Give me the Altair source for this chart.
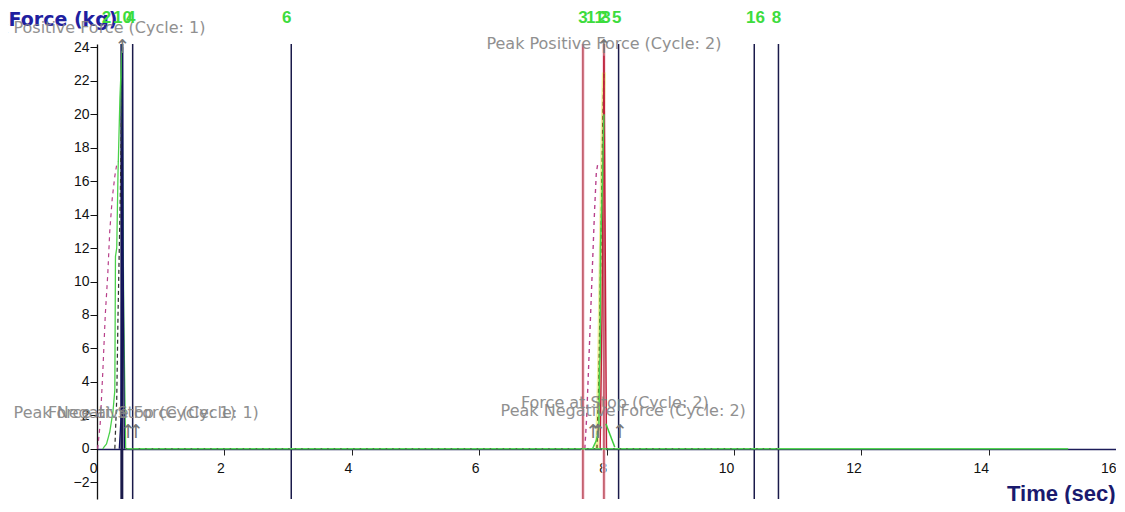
import altair as alt
import pandas as pd

# ---------------- data ----------------
# vertical cursor lines (time, sec)
navy_rule_t = [0.39, 0.56, 3.05, 8.19, 10.32, 10.70]
navy_rule_w = [3.0, 1.5, 1.5, 1.5, 1.5, 1.5]
red_rule_t = [7.63, 7.96]

# force curves (time sec, force kg)
c1_pink_t = [0.01, 0.05, 0.09, 0.13, 0.17, 0.20, 0.24, 0.28, 0.31, 0.34]
c1_pink_f = [0.0, 1.5, 4.5, 8.0, 10.5, 13.0, 15.0, 16.3, 17.0, 17.2]
c1_dark_t = [0.28, 0.31, 0.33, 0.35, 0.37, 0.385, 0.40]
c1_dark_f = [0.0, 3.0, 8.0, 12.0, 16.0, 20.0, 24.0]
c1_green_t = [0.09, 0.15, 0.20, 0.25, 0.28, 0.29, 0.31, 0.33, 0.36, 0.39, 0.42, 0.45]
c1_green_f = [0.0, 0.3, 1.0, 2.2, 3.5, 11.5, 12.0, 16.5, 21.0, 23.8, 8.0, 0.0]
c1_navy_t = [0.35, 0.38, 0.39, 0.40, 0.41, 0.43]
c1_navy_f = [0.0, 2.0, 12.0, 24.0, 12.0, 0.0]
c2_pink_t = [7.66, 7.69, 7.72, 7.75, 7.78, 7.81, 7.84, 7.87]
c2_pink_f = [0.0, 2.0, 5.0, 8.0, 11.0, 14.0, 16.5, 17.2]
c2_olive_t = [7.85, 7.88, 7.90, 7.92, 7.94, 7.96]
c2_olive_f = [0.0, 4.0, 9.0, 14.0, 19.0, 22.5]
c2_red_t = [7.90, 7.93, 7.95, 7.96, 7.98, 8.00]
c2_red_f = [0.0, 8.0, 18.0, 23.5, 12.0, 0.0]
c2_green_t = [7.78, 7.84, 7.88, 7.89, 7.90, 7.905, 7.93, 7.96]
c2_green_f = [0.0, 0.5, 1.2, 5.0, 5.5, 12.0, 15.0, 20.0]
c2_green_tail_t = [7.99, 8.13]
c2_green_tail_f = [1.5, 0.1]
baseline_t = [0.45, 15.25]
baseline_f = [0.0, 0.0]
dots_t = [0.45, 10.70]
dots_f = [0.0, 0.0]

# markers
arrow_t = [0.40, 0.49, 0.61, 7.96, 7.79, 7.87, 8.21]
arrow_f = [24.0, 1.0, 1.0, 24.0, 1.0, 1.0, 1.0]

# annotations
ann_text = ["Peak Positive Force (Cycle: 1)", "Peak Positive Force (Cycle: 2)",
            "Peak Negative Force (Cycle: 1)", "Force at Stop (Cycle: 1)",
            "Force at Stop (Cycle: 2)", "Peak Negative Force (Cycle: 2)"]
ann_t = [0.40, 7.96, 0.49, 0.61, 8.21, 7.87]
ann_f = [24.0, 23.5, 0.0, 0.0, 0.0, 0.0]

# cursor numbers at top
cur_text = ["2", "10", "4", "6", "3", "11", "2", "3", "5", "16", "8"]
cur_t = [0.15, 0.40, 0.53, 2.98, 7.63, 7.82, 7.94, 7.99, 8.16, 10.34, 10.67]

x_ticks = [0, 2, 4, 6, 8, 10, 12, 14, 16]
y_ticks = [-2, 0, 2, 4, 6, 8, 10, 12, 14, 16, 18, 20, 22, 24]

# ---------------- build tables ----------------
curves = {
    "c1_pink": (c1_pink_t, c1_pink_f), "c1_dark": (c1_dark_t, c1_dark_f),
    "c1_green": (c1_green_t, c1_green_f), "c1_navy": (c1_navy_t, c1_navy_f),
    "c2_pink": (c2_pink_t, c2_pink_f), "c2_olive": (c2_olive_t, c2_olive_f),
    "c2_red": (c2_red_t, c2_red_f), "c2_green": (c2_green_t, c2_green_f),
    "c2_green_tail": (c2_green_tail_t, c2_green_tail_f),
    "baseline": (baseline_t, baseline_f),
    "dots": (dots_t, dots_f),
}
rows = []
for name, (ts, fs) in curves.items():
    for i, (t, f) in enumerate(zip(ts, fs)):
        rows.append({"series": name, "t": t, "f": f, "o": i})
curve_df = pd.DataFrame(rows)

color_domain = ["c1_pink", "c1_dark", "c1_green", "c1_navy", "c2_pink", "c2_olive",
                "c2_red", "c2_green", "c2_green_tail", "baseline", "dots"]
color_range = ["#b8408a", "#303030", "#49d149", "#12125e", "#b8408a", "#5e5a18",
               "#c0203c", "#49d149", "#3ccc3c", "#55d655", "#4a7a4a"]
dash_range = [[4, 4], [4, 3], [1, 0], [1, 0], [4, 4], [4, 3], [1, 0], [1, 0], [1, 0], [1, 0], [1.5, 5]]
width_range = [1.2, 1.6, 1.3, 1.5, 1.2, 1.8, 1.5, 1.3, 2.0, 1.6, 1.4]

navy_df = pd.DataFrame({"t": navy_rule_t, "w": navy_rule_w})
red_df = pd.DataFrame({"t": red_rule_t})
arrow_df = pd.DataFrame({"t": arrow_t, "f": arrow_f})
cur_df = pd.DataFrame({"t": cur_t, "label": cur_text})

# ---------------- encodings ----------------
NUM_FONT = "Liberation Sans"
x_enc = alt.X("t:Q",
              scale=alt.Scale(domain=[0, 16], nice=False, zero=False),
              axis=alt.Axis(values=x_ticks, format="d", grid=False, offset=-50,
                            domainColor="#1c1c5a", domainWidth=1.5,
                            tickColor="#222222", tickSize=6,
                            labelFont=NUM_FONT, labelFontSize=14, labelColor="#111111",
                            labelAlign="right", labelPadding=6, labelFlush=False,
                            title="Time (sec)", titleFont=NUM_FONT, titleFontSize=22,
                            titleFontWeight="bold", titleColor="#1a1a6e",
                            titleAlign="right", titleBaseline="middle",
                            titleX=1018, titleY=44))
y_enc = alt.Y("f:Q",
              scale=alt.Scale(domain=[-3.0, 24.2], nice=False, zero=False),
              axis=alt.Axis(values=y_ticks, format="d", grid=False,
                            domainColor="#111111", domainWidth=1.3,
                            tickColor="#111111", tickSize=7,
                            labelFont=NUM_FONT, labelFontSize=14, labelColor="#111111",
                            labelPadding=1, labelFlush=False,
                            title="Force (kg)", titleFont="DejaVu Sans", titleFontSize=19,
                            titleFontWeight="bold", titleColor="#1f1fa0",
                            titleAngle=0, titleAlign="left", titleBaseline="middle",
                            titleX=-89, titleY=-25))

red_halo = alt.Chart(red_df).mark_rule(color="#f8d3de", strokeWidth=4, opacity=0.8).encode(x=x_enc)
red_rules = alt.Chart(red_df).mark_rule(color="#b03040", strokeWidth=1.3).encode(x=x_enc)
navy_rules = alt.Chart(navy_df).mark_rule(color="#1a1a4a").encode(
    x=x_enc, strokeWidth=alt.StrokeWidth("w:Q", scale=None, legend=None))

olive_halo = alt.Chart(curve_df[curve_df.series == "c2_olive"]).mark_line(
    color="#eeee88", strokeWidth=4, opacity=0.8).encode(x=x_enc, y=y_enc, order="o:Q")

lines = alt.Chart(curve_df).mark_line().encode(
    x=x_enc, y=y_enc,
    color=alt.Color("series:N", scale=alt.Scale(domain=color_domain, range=color_range), legend=None),
    strokeDash=alt.StrokeDash("series:N", scale=alt.Scale(domain=color_domain, range=dash_range), legend=None),
    strokeWidth=alt.StrokeWidth("series:N", scale=alt.Scale(domain=color_domain, range=width_range), legend=None),
    detail="series:N",
    order="o:Q",
)

arrows = alt.Chart(arrow_df).mark_text(text="↑", font="DejaVu Sans", fontSize=19,
                                        color="#777777", baseline="middle").encode(x=x_enc, y=y_enc)

ann_style = [
    dict(align="right", dx=83, dy=-19),
    dict(align="center", dx=0, dy=-12),
    dict(align="center", dx=8, dy=-36),
    dict(align="center", dx=6, dy=-36),
    dict(align="center", dx=-5, dy=-46),
    dict(align="center", dx=25, dy=-38),
]
ann_layers = []
for txt, t, f, st in zip(ann_text, ann_t, ann_f, ann_style):
    d = pd.DataFrame({"t": [t], "f": [f], "label": [txt]})
    ann_layers.append(
        alt.Chart(d).mark_text(font="DejaVu Sans", fontSize=16, color="#858585", opacity=0.9,
                               baseline="middle", **st).encode(x=x_enc, y=y_enc, text="label:N"))

cursors = alt.Chart(cur_df).mark_text(font="Liberation Sans Narrow, Liberation Sans, sans-serif",
                                      fontSize=17, fontWeight="bold", color="#3ddc3d",
                                      baseline="middle").encode(
    x=x_enc, y=alt.value(-26), text="label:N")

chart = alt.layer(
    red_halo, navy_rules, red_rules, olive_halo, lines, arrows, *ann_layers, cursors
).properties(
    width=1019, height=455,
    padding={"left": 89, "top": 36, "right": 0, "bottom": 5},
    autosize=alt.AutoSizeParams(type="none"),
    background="white",
).configure_view(stroke=None)

chart.save("out.html", embed_options={"renderer": "svg", "actions": False})
